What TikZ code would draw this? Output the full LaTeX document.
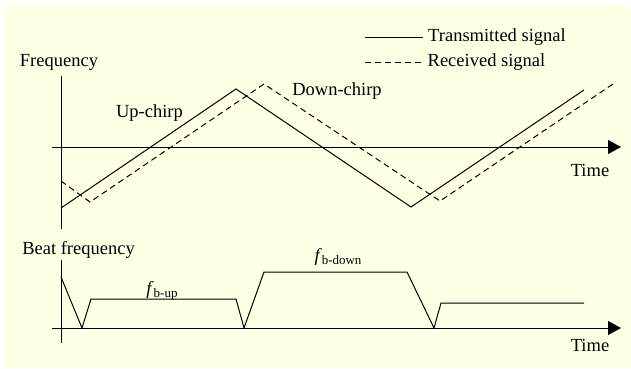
\documentclass[tikz,border=0pt]{standalone}
\usepackage{fontspec}
\setmainfont{Liberation Serif}
\usetikzlibrary{arrows.meta}
\definecolor{bgyellow}{RGB}{255,255,229}
\begin{document}
\begin{tikzpicture}[x=1pt,y=-1pt,
  lbl/.style={inner sep=0pt,anchor=center,font=\fontsize{18.5}{20}\selectfont},
  axis/.style={line width=1pt,-{Triangle[length=13pt,width=14pt]}},
  vaxis/.style={line width=1pt},
  sig/.style={line width=1pt,line join=miter},
  rsig/.style={line width=1pt,dash pattern=on 6pt off 4pt}]
\useasboundingbox (0,0) rectangle (631,368);
\fill[bgyellow] (4,5) rectangle (631,368);
% top axes
\coordinate (vt1) at (61,76); \coordinate (vt2) at (61,229);
\coordinate (ht1) at (52,147); \coordinate (ht2) at (621,147);
\draw[vaxis] (vt1) -- (vt2);
\draw[axis] (ht1) -- (ht2);
% transmitted
\coordinate (t0) at (61,208); \coordinate (t1) at (236,89);
\coordinate (t2) at (411,207); \coordinate (t3) at (584,90);
\draw[sig] (t0) -- (t1) -- (t2) -- (t3);
% received
\coordinate (r0) at (61,181); \coordinate (r1) at (90,202);
\coordinate (r2) at (264,84); \coordinate (r3) at (440,201);
\coordinate (r4) at (613,84);
\draw[rsig] (r0) -- (r1) -- (r2) -- (r3) -- (r4);
% legend
\coordinate (l1a) at (365,37); \coordinate (l1b) at (423,37);
\coordinate (l2a) at (365,62); \coordinate (l2b) at (423,62);
\draw[sig] (l1a) -- (l1b);
\draw[rsig] (l2a) -- (l2b);
\node[lbl] (tx) at (497,37) {Transmitted signal};
\node[lbl] (rx) at (486.5,62.5) {Received signal};
% labels top
\node[lbl] (freq) at (59,62.5) {Frequency};
\node[lbl] (up) at (149.5,113) {Up-chirp};
\node[lbl] (down) at (337,91.5) {Down-chirp};
\node[lbl] (time1) at (590,170) {Time};
% bottom axes
\coordinate (vb1) at (61,260); \coordinate (vb2) at (61,343);
\coordinate (hb1) at (52,328); \coordinate (hb2) at (621,328);
\draw[vaxis] (vb1) -- (vb2);
\draw[axis] (hb1) -- (hb2);
% beat signal
\coordinate (b0) at (61,277); \coordinate (b1) at (82,328);
\coordinate (b2) at (91,299); \coordinate (b3) at (236,299);
\coordinate (b4) at (244,328); \coordinate (b5) at (264,272);
\coordinate (b6) at (407,272); \coordinate (b7) at (434,328);
\coordinate (b8) at (441,303); \coordinate (b9) at (584,303);
\draw[sig] (b0) -- (b1) -- (b2) -- (b3) -- (b4) -- (b5) -- (b6) -- (b7) -- (b8) -- (b9);
\node[lbl] (beat) at (78.5,250) {Beat frequency};
\node[lbl] (fbup) at (162,291) {\textit{f}\raisebox{-0.3ex}{\fontsize{13}{13}\selectfont b-up}};
\node[lbl] (fbdown) at (338,257) {\textit{f}\raisebox{-0.3ex}{\fontsize{13}{13}\selectfont b-down}};
\node[lbl] (time2) at (590,345) {Time};
\end{tikzpicture}
\end{document}
